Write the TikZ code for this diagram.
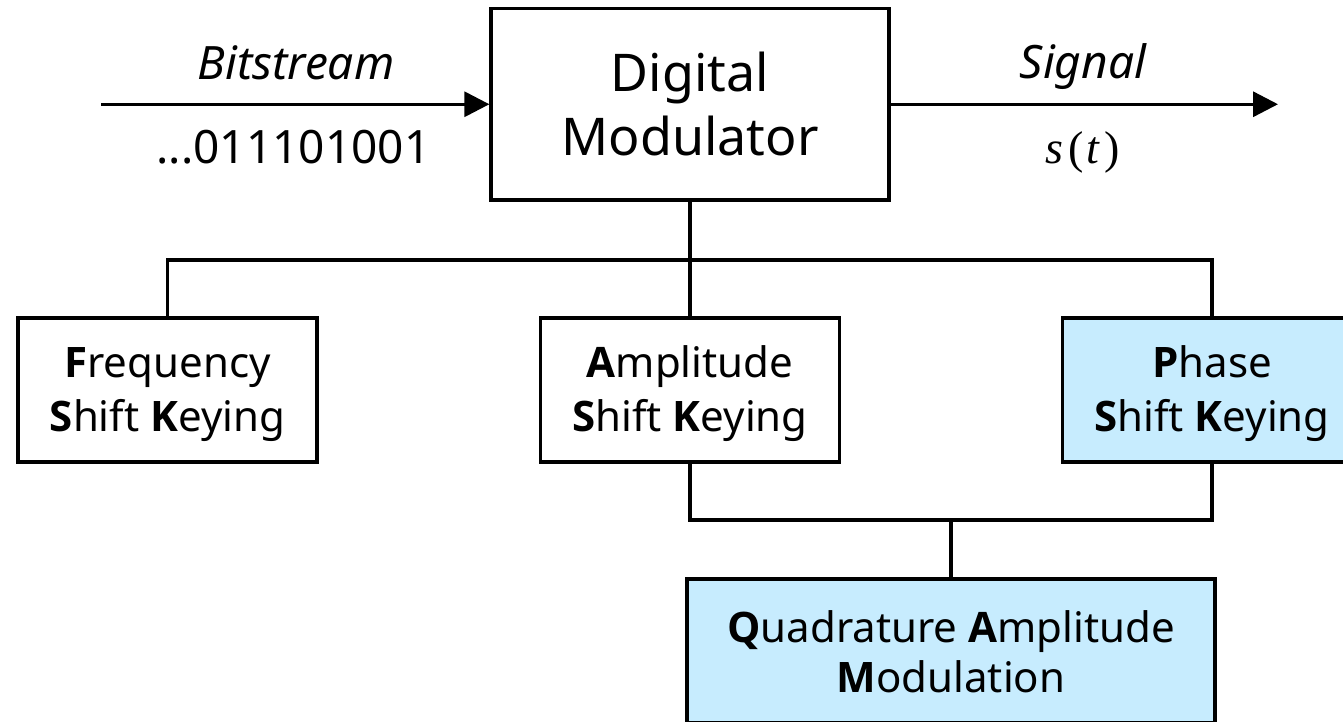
\documentclass[tikz,border=0pt]{standalone}
\usepackage{fontspec}
\setmainfont{Noto Sans}[BoldFont={Open Sans Bold}]
\newfontfamily\mathserif{Liberation Serif}
\usetikzlibrary{arrows.meta}
\definecolor{keyblue}{RGB}{199,236,254}
% two centred lines with a fixed top height and bottom depth
\newcommand\twoline[4]{\rule{0pt}{#1}#3\\#4\rule[-#2]{0pt}{#2}}
\tikzset{
  wire/.style={line width=3.3pt, draw=black},
  flow/.style={wire, -{Triangle[length=25pt,width=25pt]}},
  block/.style={wire, rectangle, inner sep=0pt, align=center,
    minimum width=299pt, minimum height=144pt,
    font=\fontsize{42}{54}\selectfont},
  keyed/.style={block, fill=keyblue},
  label/.style={anchor=base, inner sep=0pt, font=\fontsize{46}{56}\selectfont},
}
\begin{document}
\begin{tikzpicture}[x=1pt, y=-1pt]
  \useasboundingbox (0,0) rectangle (1343,721);
  \clip (0,0) rectangle (1343,721);

  % modulator block and its input / output
  \node[block, minimum width=398pt, minimum height=191.5pt,
        font=\fontsize{52}{64}\selectfont] (dm) at (690,104.25)
        {\twoline{48pt}{10.5pt}{Digital}{Modulator}};
  \coordinate (in) at (101,104.25);
  \coordinate (out) at (1278,104.25);
  \draw[flow] (in) -- (dm.west);
  \draw[flow] (dm.east) -- (out);

  \node[label, font=\fontsize{46}{56}\itshape] (bits) at (296,79) {Bitstream};
  \node[label] (seq) at (293.5,163) {...011101001};
  \node[label, font=\fontsize{46}{56}\itshape] (sig) at (1083,78) {Signal};
  \node[label, font=\fontsize{46}{56}\mathserif] (st) at (1082.5,163)
        {\textit{s}\kern5pt(\kern3pt\textit{t}\kern4pt)};

  % keying schemes
  \node[block] (fsk) at (167.5,390)
        {\twoline{40pt}{10pt}{\textbf{F}requency}{\textbf{S}hift \textbf{K}eying}};
  \node[block] (ask) at (690,390)
        {\twoline{40pt}{10pt}{\textbf{A}mplitude}{\textbf{S}hift \textbf{K}eying}};
  \node[keyed] (psk) at (1212,390)
        {\twoline{40pt}{10pt}{\textbf{P}hase}{\textbf{S}hift \textbf{K}eying}};
  \node[keyed, minimum width=528pt, font=\fontsize{42}{50}\selectfont] (qam) at (951,651)
        {\twoline{42pt}{10pt}{\textbf{Q}uadrature \textbf{A}mplitude}{\textbf{M}odulation}};

  % tree connectors
  \coordinate (upbus) at (690,260);
  \coordinate (lowbus) at (951,520);
  \draw[wire] (dm.south) -- (ask.north);
  \draw[wire] (fsk.north) -- (fsk.north |- upbus) -| (psk.north);
  \draw[wire] (ask.south) -- (ask.south |- lowbus) -| (psk.south);
  \draw[wire] (qam.north) -- (lowbus);
\end{tikzpicture}
\end{document}
